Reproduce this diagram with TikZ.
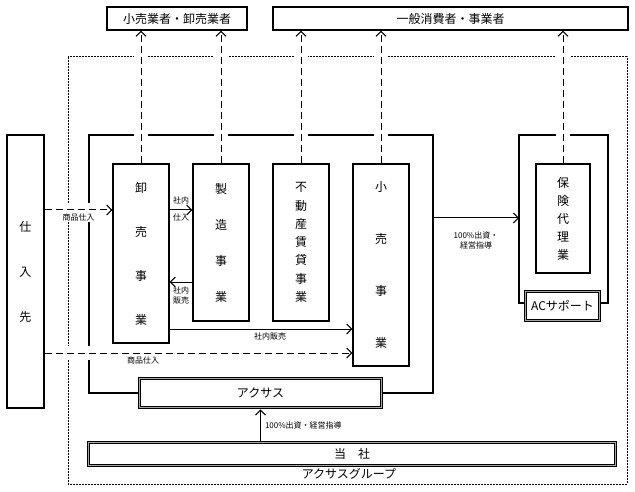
\documentclass[tikz,border=0pt]{standalone}
\usepackage{fontspec}
\setmainfont{Noto Sans CJK JP}
\usetikzlibrary{arrows.meta}
\tikzstyle{biz} = [rectangle, draw=black, line width=1.2pt, inner sep=0pt,
  align=center, fill=white]
\tikzstyle{dest} = [rectangle, draw=black, line width=1.2pt, inner sep=0pt,
  font=\fontsize{12}{14}\selectfont]
\tikzstyle{dbox} = [rectangle, draw=black, double=gray!70,
  double distance=1.2pt, line width=0.8pt, inner sep=0pt,
  font=\fontsize{12}{14}\selectfont]
\tikzstyle{frame} = [line width=1.6pt]
\tikzstyle{group} = [line width=1pt, dash pattern=on 2pt off 1pt]
\tikzstyle{small} = [font=\fontsize{8}{10.5}\selectfont, inner sep=1pt,
  align=center]
\tikzstyle{arrow} = [line width=1pt, -{Straight Barb[length=5pt,width=10pt]}]
\tikzstyle{cut} = [preaction={draw=white, line width=14pt, -, solid,
  shorten <=2pt, shorten >=2pt}]
\tikzstyle{darrow} = [arrow, dash pattern=on 7pt off 4pt, cut]

\begin{document}
\begin{tikzpicture}[x=1pt, y=-1pt]
  \useasboundingbox (0,0) rectangle (635,492);
  % destinations
  \node (top1) [dest, minimum width=140pt, minimum height=23pt] at (177,18.5)
    {小売業者・卸売業者};
  \node (top2) [dest, minimum width=355pt, minimum height=23pt] at (450.5,18.5)
    {一般消費者・事業者};
  % suppliers and businesses
  \node (shiire) [biz, minimum width=37pt, minimum height=273pt,
    font=\fontsize{12}{45}\selectfont] at (25.5,271.5) {仕\\入\\先};
  \node (oroshi) [biz, minimum width=56pt, minimum height=179pt,
    font=\fontsize{12}{44}\selectfont] at (141,253.5) {卸\\売\\事\\業};
  \node (seizo) [biz, minimum width=56pt, minimum height=157pt,
    font=\fontsize{12}{36}\selectfont] at (221,242.5) {製\\造\\事\\業};
  \node (fudosan) [biz, minimum width=56pt, minimum height=157pt,
    font=\fontsize{12}{18.3}\selectfont] at (301,242.5)
    {不\\動\\産\\賃\\貸\\事\\業};
  \node (kouri) [biz, minimum width=56pt, minimum height=202pt,
    font=\fontsize{12}{52}\selectfont] at (381,265) {小\\売\\事\\業};
  \node (hoken) [biz, minimum width=54pt, minimum height=109pt,
    font=\fontsize{12}{18}\selectfont] at (563,218.5) {保\\険\\代\\理\\業};
  \node (acs) [dbox, minimum width=74pt, minimum height=29pt] at (562.5,306)
    {ACサポート};
  \node (axas) [dbox, minimum width=242pt, minimum height=29pt] at (260.5,393)
    {アクサス};
  \node (tousha) [dbox, minimum width=527pt, minimum height=23pt] at (352,454)
    {当　社};
  \node (grouplabel) [font=\fontsize{12}{14}\selectfont] at (349,474)
    {アクサスグループ};

  \coordinate (gnw) at (68,57);
  \coordinate (gse) at (627,484);
  \coordinate (fnw) at (89,135);
  \coordinate (fne) at (433,135);
  \coordinate (hnw) at (519,135);
  \coordinate (hne) at (608,135);

  % group and frames
  \draw [group] (gnw) rectangle (gse);
  \draw [frame] (axas.west) -| (fnw) -- (fne) |- (axas.east);
  \draw [frame] ([yshift=3pt]acs.west) -| (hnw) -- (hne) |- ([yshift=3pt]acs.east);

  % flows
  \draw [darrow] (shiire.east |- 0,210) -- (oroshi.west |- 0,210)
    node[small, midway, below=2pt, fill=white] {商品仕入};
  \draw [arrow] (oroshi.east |- 0,210) -- (seizo.west |- 0,210)
    node[small, midway, above=4pt] {社内}
    node[small, midway, below=2pt] {仕入};
  \draw [arrow] (seizo.west |- 0,282) -- (oroshi.east |- 0,282)
    node[small, midway, below=3pt] {社内\\販売};
  \draw [arrow] (oroshi.east |- 0,329) -- (kouri.west |- 0,329)
    node[small, pos=0.55, below=2pt] {社内販売};
  \draw [darrow] (shiire.east |- 0,353) -- (kouri.west |- 0,353)
    node[small, pos=0.32, below=2pt] {商品仕入};
  \draw [arrow] (fne |- 0,218) -- (hnw |- 0,218)
    node[small, midway, below=12pt] {100\%出資・\\経営指導};
  \draw [arrow, shorten >=1.5pt] (tousha.north -| axas.south) -- (axas.south)
    node[small, midway, right=3pt] {100\%出資・経営指導};

  \draw [darrow] (oroshi.north) -- (oroshi.north |- top1.south);
  \draw [darrow] (seizo.north) -- (seizo.north |- top1.south);
  \draw [darrow] (fudosan.north) -- (fudosan.north |- top2.south);
  \draw [darrow] (kouri.north) -- (kouri.north |- top2.south);
  \draw [darrow] (hoken.north) -- (hoken.north |- top2.south);
\end{tikzpicture}
\end{document}
